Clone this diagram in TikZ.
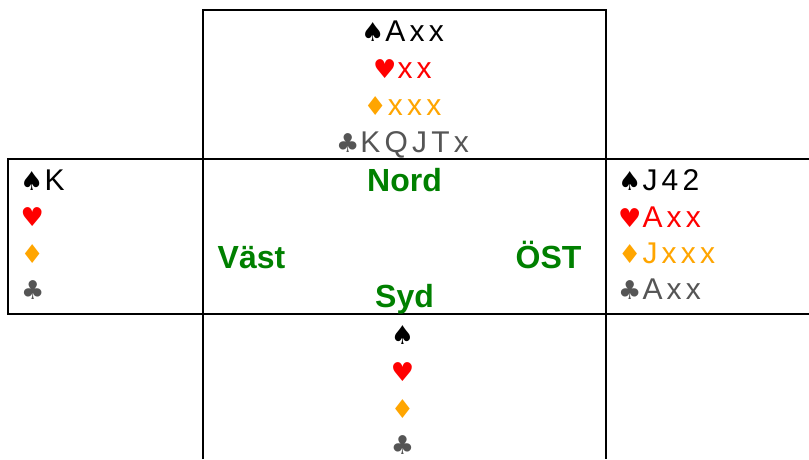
\documentclass[tikz,border=0pt]{standalone}
\usepackage{xcolor}
\usepackage{fontspec}
\usetikzlibrary{positioning}
\setmainfont{Liberation Sans}
\newfontfamily\cardfont[LetterSpace=14]{Liberation Sans}
\newfontfamily\suitfont{DejaVu Sans}
\definecolor{clubgray}{HTML}{555555}
\definecolor{diamorange}{HTML}{FFA500}
\definecolor{seatgreen}{HTML}{008000}
\newcommand{\spadesign}{{\suitfont\fontsize{26}{26}\selectfont ♠}\kern1pt}
\newcommand{\heartsign}{{\suitfont\fontsize{26}{26}\selectfont ♥}\kern1pt}
\newcommand{\diamsign}{{\suitfont\fontsize{26}{26}\selectfont ♦}\kern1pt}
\newcommand{\clubsign}{{\suitfont\fontsize{26}{26}\selectfont ♣}\kern1pt}
\tikzset{
	hand/.style={inner sep=0pt, anchor=base, font=\cardfont\fontsize{30}{30}\selectfont},
	handw/.style={hand, anchor=base west},
	spades/.style={text=black},
	hearts/.style={text=red},
	diams/.style={text=diamorange},
	clubs/.style={text=clubgray},
	seat/.style={inner sep=0pt, anchor=base, text=seatgreen, font=\bfseries\fontsize{32}{32}\selectfont},
	grid/.style={line width=2pt, black}
}
\begin{document}
\begin{tikzpicture}[x=1pt, y=-1pt]
	\useasboundingbox (0,0) rectangle (809,459);
	% table lines
	\draw[grid] (203,459) -- (203,10) -- (606,10) -- (606,459);
	\draw[grid] (809,159) -- (8,159) -- (8,314) -- (809,314);
	% north
	\node[hand, spades] at (402.5,41) (ns) {\spadesign Axx};
	\node[hand, hearts] at (402.5,78) (nh) {\heartsign xx};
	\node[hand, diams] at (402.5,115) (nd) {\diamsign xxx};
	\node[hand, clubs] at (402.5,152) (nc) {\clubsign KQJTx};
	% west
	\node[handw, spades] at (20,190) (ws) {\spadesign K};
	\node[handw, hearts] at (20.5,226) (wh) {\heartsign};
	\node[handw, diams] at (20.5,263) (wd) {\diamsign};
	\node[handw, clubs] at (21,299) (wc) {\clubsign};
	% east
	\node[handw, spades] at (618,190) (es) {\spadesign J42};
	\node[handw, hearts] at (618,227) (eh) {\heartsign Axx};
	\node[handw, diams] at (618,263) (ed) {\diamsign Jxxx};
	\node[handw, clubs] at (618,299) (ec) {\clubsign Axx};
	% south
	\node[hand, spades] at (403,344) (ss) {\spadesign};
	\node[hand, hearts] at (403,381) (sh) {\heartsign};
	\node[hand, diams] at (403,418) (sd) {\diamsign};
	\node[hand, clubs] at (403,454) (sc) {\clubsign};
	% seats
	\node[seat] at (404.5,191) (nord) {Nord};
	\node[seat] at (251.5,268) (vast) {Väst};
	\node[seat] at (548.5,268) (ost) {ÖST};
	\node[seat] at (404.5,307) (syd) {Syd};
\end{tikzpicture}
\end{document}
